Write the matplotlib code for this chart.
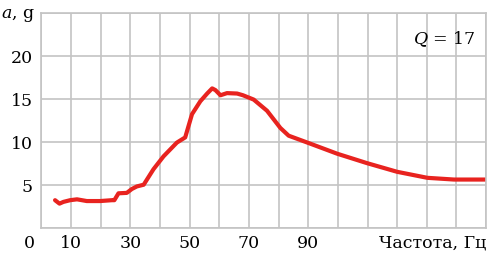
import matplotlib.pyplot as plt

freq = [4.6, 6.1, 7.4, 9.7, 12.0, 15.3, 19.8, 23.8, 24.6, 26.0, 28.8, 30.5,
        32.2, 34.5, 37.8, 41.2, 45.7, 48.5, 50.8, 53.6, 55.9, 57.6, 58.7,
        60.4, 62.6, 66.0, 68.0, 71.6, 76.1, 80.6, 83.4, 89.7, 99.8, 109.9,
        120.0, 130.2, 139.2, 149.9]
accel = [3.2, 2.8, 3.0, 3.2, 3.3, 3.1, 3.1, 3.2, 3.2, 4.0, 4.05, 4.5,
         4.8, 5.0, 6.8, 8.3, 9.9, 10.5, 13.2, 14.7, 15.6, 16.2, 16.0,
         15.4, 15.65, 15.6, 15.4, 14.9, 13.6, 11.6, 10.7, 9.9, 8.6, 7.5,
         6.5, 5.8, 5.6, 5.6]

xticks = [10, 30, 50, 70, 90]
yticks = [5, 10, 15, 20]

plt.rcParams['font.family'] = ['DejaVu Serif']
plt.rcParams['mathtext.fontset'] = 'dejavuserif'

fig = plt.figure(figsize=(4.93, 2.54), dpi=100)
ax = fig.add_axes([0.084, 0.1035, 0.902, 0.8465])

ax.plot(freq, accel, color='#e8231f', lw=3.0, solid_capstyle='round')

ax.set_xlim(0, 150)
ax.set_ylim(0, 25)
ax.set_xticks(range(0, 151, 10))
ax.set_yticks(range(0, 26, 5))
ax.set_xticklabels([])
ax.set_yticklabels([])
ax.tick_params(length=0)
ax.grid(True, color='#c4c4c4', lw=1.2)
for s in ax.spines.values():
    s.set_color('#c4c4c4')
    s.set_linewidth(1.2)

fs = 12.5
for t in xticks:
    ax.text(t, -2.35, str(t), ha='center', va='baseline', fontsize=fs)
for t in yticks:
    ax.text(-2.8, t - 0.9, str(t), ha='right', va='baseline', fontsize=fs)
ax.text(-2.2, -2.35, '0', ha='right', va='baseline', fontsize=fs)
ax.text(150, -2.35, 'Частота, Гц', ha='right', va='baseline', fontsize=fs)
ax.text(-2.2, 24.4, '$a$, g', ha='right', va='baseline', fontsize=fs)
ax.text(146.5, 21.3, '$Q$ = 17', ha='right', va='baseline', fontsize=fs)

fig.savefig('out.png')
